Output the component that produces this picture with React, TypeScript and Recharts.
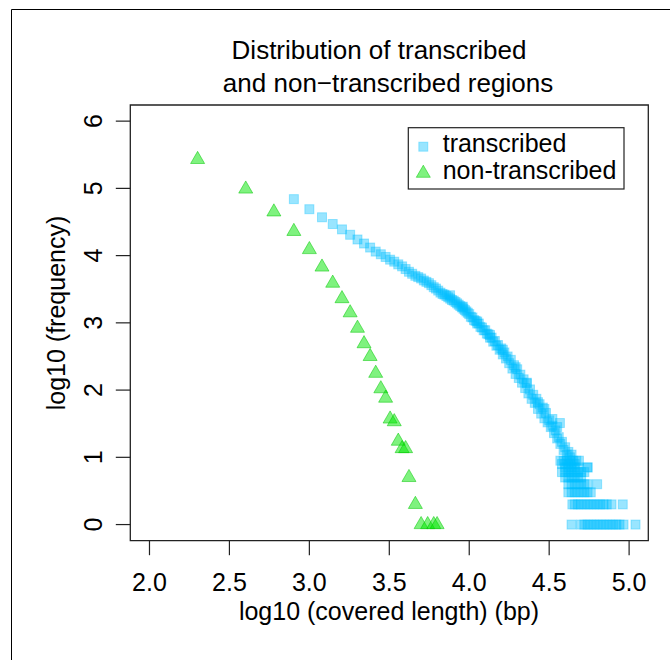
import React from 'react';
import { ScatterChart, Scatter, XAxis, YAxis, ReferenceArea } from 'recharts';

const FONT = '"Liberation Sans", Arial, Helvetica, sans-serif';
const FS = 25;

// axis ticks
const xTicks = [2, 2.5, 3, 3.5, 4, 4.5, 5];
const yTicks = [0, 1, 2, 3, 4, 5, 6];

// non-transcribed: log10(length), log10(frequency)
const nonTranscribedX = [
  2.301, 2.602, 2.778, 2.903, 3.0, 3.079, 3.146, 3.204, 3.255, 3.301,
  3.342, 3.38, 3.415, 3.447, 3.477, 3.505, 3.531, 3.556, 3.58, 3.602,
  3.623, 3.663, 3.699, 3.74, 3.778, 3.799,
];
const nonTranscribedY = [
  5.43, 4.99, 4.65, 4.36, 4.09, 3.83, 3.59, 3.36, 3.15, 2.92,
  2.69, 2.5, 2.25, 2.02, 1.88, 1.57, 1.53, 1.24, 1.13, 1.13,
  0.7, 0.3, 0, 0, 0, 0,
];

// transcribed: main curve
const transcribedX = [
  2.903, 3.0, 3.079, 3.146, 3.204, 3.255, 3.301, 3.342, 3.38, 3.415,
  3.447, 3.477, 3.505, 3.531, 3.556, 3.58, 3.602, 3.623, 3.643, 3.663,
  3.681, 3.699, 3.716, 3.732, 3.748, 3.763, 3.778, 3.792, 3.806, 3.82,
  3.833, 3.845, 3.857, 3.869, 3.881, 3.892, 3.903, 3.914, 3.924, 3.934,
  3.944, 3.954, 3.964, 3.973, 3.982, 3.991, 4.0,
  4.01, 4.02, 4.03, 4.04, 4.05, 4.06, 4.07, 4.08, 4.09, 4.1,
  4.11, 4.12, 4.13, 4.14, 4.15, 4.16, 4.17, 4.18, 4.19, 4.2,
  4.21, 4.22, 4.23, 4.24, 4.25, 4.26, 4.27, 4.28, 4.29, 4.3,
  4.31, 4.32, 4.33, 4.34, 4.35, 4.36, 4.37, 4.38, 4.39, 4.4,
  4.41, 4.42, 4.43, 4.44, 4.45, 4.46, 4.47, 4.48, 4.49, 4.5,
  4.51, 4.52, 4.53, 4.54, 4.55, 4.56, 4.567, 4.57, 4.58, 4.59,
  4.6, 4.61, 4.62, 4.63, 4.64, 4.686, 4.74,
  // scattered squares off the main band
  3.88, 3.96, 4.05, 4.13, 4.21, 4.29, 4.36, 4.43, 4.47, 4.52, 4.55,
];
const transcribedY = [
  4.84, 4.69, 4.57, 4.47, 4.39, 4.31, 4.24, 4.18, 4.12, 4.06,
  4.02, 3.98, 3.94, 3.91, 3.87, 3.84, 3.8, 3.76, 3.73, 3.7,
  3.68, 3.66, 3.63, 3.61, 3.59, 3.56, 3.53, 3.51, 3.48, 3.45,
  3.43, 3.42, 3.4, 3.38, 3.36, 3.34, 3.33, 3.31, 3.29, 3.27,
  3.25, 3.23, 3.21, 3.19, 3.17, 3.15, 3.13,
  3.09, 3.08, 3.04, 3.03, 2.99, 2.99, 2.94, 2.93, 2.89, 2.89,
  2.84, 2.83, 2.78, 2.78, 2.72, 2.73, 2.66, 2.67, 2.6, 2.62,
  2.53, 2.56, 2.47, 2.5, 2.4, 2.45, 2.32, 2.37, 2.24, 2.31,
  2.18, 2.23, 2.11, 2.16, 2.03, 2.11, 1.95, 2.01, 1.87, 1.93,
  1.81, 1.87, 1.72, 1.79, 1.65, 1.74, 1.58, 1.66, 1.52, 1.55,
  1.45, 1.47, 1.36, 1.4, 1.28, 1.3, 1.51, 1.2, 1.23, 1.11,
  1.15, 1.04, 1.08, 1.0, 1.04, 0.95, 0.85,
  3.41, 3.24, 3.02, 2.82, 2.6, 2.34, 2.1, 1.82, 1.72, 1.57, 1.45,
];

// transcribed: low-count tail, one row per frequency level
const tailLevels = [0.95, 0.9, 0.85, 0.78, 0.7, 0.6, 0.48, 0.3, 0];
const tailX = [
  [4.57, 4.59, 4.61, 4.63, 4.65, 4.67],
  [4.58, 4.6, 4.62, 4.64, 4.66],
  [4.6, 4.62, 4.64, 4.66, 4.68, 4.74],
  [4.58, 4.6, 4.62, 4.64, 4.66, 4.68, 4.7, 4.72],
  [4.6, 4.62, 4.64, 4.66, 4.68, 4.7],
  [4.62, 4.64, 4.66, 4.68, 4.7, 4.72, 4.74, 4.8],
  [4.62, 4.64, 4.66, 4.68, 4.7, 4.72, 4.74, 4.76],
  [4.645, 4.66, 4.68, 4.7, 4.72, 4.74, 4.76, 4.78, 4.8, 4.82, 4.84, 4.86, 4.89, 4.96],
  [4.64, 4.7, 4.72, 4.74, 4.76, 4.78, 4.8, 4.82, 4.84, 4.86, 4.88, 4.9, 4.92, 4.94, 4.965, 5.04],
];

const nonTranscribed = nonTranscribedX.map((x, i) => ({ x, y: nonTranscribedY[i] }));
const transcribed = [
  ...transcribedX.map((x, i) => ({ x, y: transcribedY[i] })),
  ...tailLevels.flatMap((y, i) => tailX[i].map((x) => ({ x, y }))),
];

const BLUE = '#00BFFF';
const GREEN = '#00E600';

const Square = (props: any) => {
  const { cx, cy } = props;
  if (cx == null || cy == null) return null;
  return (
    <rect x={cx - 4.5} y={cy - 4.5} width={9} height={9}
      fill={BLUE} fillOpacity={0.4} stroke={BLUE} strokeOpacity={0.35} strokeWidth={1} />
  );
};

const Triangle = (props: any) => {
  const { cx, cy } = props;
  if (cx == null || cy == null) return null;
  return (
    <polygon points={`${cx},${cy - 8.1} ${cx + 7},${cy + 4.05} ${cx - 7},${cy + 4.05}`}
      fill={GREEN} fillOpacity={0.5} stroke="#00C800" strokeOpacity={0.5} strokeWidth={1} />
  );
};

const XTick = (props: any) => {
  const { x, y, payload } = props;
  return (
    <text x={x} y={y + 34} textAnchor="middle" fontSize={FS} fontFamily={FONT} fill="#000">
      {Number(payload.value).toFixed(1)}
    </text>
  );
};

const YTick = (props: any) => {
  const { y, payload } = props;
  const bx = 102;
  return (
    <text x={bx} y={y} transform={`rotate(-90, ${bx}, ${y})`} textAnchor="middle"
      fontSize={FS} fontFamily={FONT} fill="#000">
      {payload.value}
    </text>
  );
};

export default function App() {
  return (
    <div style={{ position: 'absolute', left: 0, top: 0, width: 670, height: 660, background: '#fff' }}>
      <ScatterChart width={670} height={660}
        margin={{ top: 105, right: 21.7, bottom: 79.3, left: 70.3 }}>
        <XAxis dataKey="x" type="number" domain={[1.88, 5.12]} ticks={xTicks}
          allowDataOverflow height={40} axisLine={false} tickSize={14.5}
          tickLine={{ stroke: '#222', strokeWidth: 1.2 }} tick={<XTick />} interval={0} />
        <YAxis dataKey="y" type="number" domain={[-0.24, 6.24]} ticks={yTicks}
          allowDataOverflow width={60} axisLine={false} tickSize={14.5}
          tickLine={{ stroke: '#222', strokeWidth: 1.2 }} tick={<YTick />} interval={0} />
        <ReferenceArea x1={1.88} x2={5.12} y1={-0.24} y2={6.24}
          fill="none" stroke="#222" strokeWidth={1.3} ifOverflow="visible" />
        <Scatter name="transcribed" data={transcribed} shape={<Square />} isAnimationActive={false} />
        <Scatter name="non-transcribed" data={nonTranscribed} shape={<Triangle />} isAnimationActive={false} />
      </ScatterChart>
      <svg width={670} height={660} style={{ position: 'absolute', left: 0, top: 0, pointerEvents: 'none' }}
        fontFamily={FONT}>
        <line x1={11.5} y1={9.5} x2={670} y2={9.5} stroke="#000" strokeWidth={1} />
        <line x1={11.5} y1={9.5} x2={11.5} y2={660} stroke="#000" strokeWidth={1} />
        <text x={379} y={59} textAnchor="middle" fontSize={FS + 1} fill="#000">Distribution of transcribed</text>
        <text x={388} y={92} textAnchor="middle" fontSize={FS + 1} fill="#000">and non−transcribed regions</text>
        <text x={389} y={620} textAnchor="middle" fontSize={FS} fill="#000">log10 (covered length) (bp)</text>
        <text x={65} y={313} transform="rotate(-90, 65, 313)" textAnchor="middle" fontSize={FS} fill="#000">
          log10 (frequency)
        </text>
        <rect x={408.3} y={127.7} width={215.7} height={61.3} fill="#fff" stroke="#222" strokeWidth={1.2} />
        <rect x={418.8} y={142.2} width={9} height={9} fill={BLUE} fillOpacity={0.4}
          stroke={BLUE} strokeOpacity={0.35} strokeWidth={1} />
        <polygon points="423.3,165.2 430.3,177.3 416.3,177.3" fill={GREEN} fillOpacity={0.5}
          stroke="#00C800" strokeOpacity={0.5} strokeWidth={1} />
        <text x={442.7} y={151.7} fontSize={FS} fill="#000">transcribed</text>
        <text x={442.7} y={179.3} fontSize={FS} fill="#000">non-transcribed</text>
      </svg>
    </div>
  );
}
